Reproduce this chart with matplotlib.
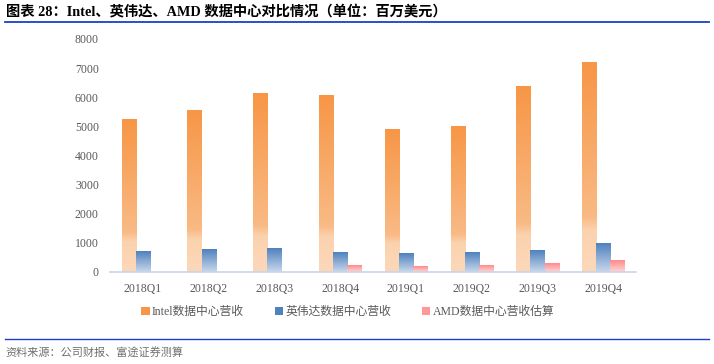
import matplotlib.pyplot as plt
from matplotlib.colors import LinearSegmentedColormap
from matplotlib.lines import Line2D
from matplotlib.patches import Patch
import numpy as np

plt.rcParams['font.family'] = ['Liberation Serif', 'Noto Sans CJK SC']

# Data (millions USD)
quarters = ['2018Q1', '2018Q2', '2018Q3', '2018Q4', '2019Q1', '2019Q2', '2019Q3', '2019Q4']
intel = [5234, 5549, 6139, 6069, 4903, 4983, 6385, 7204]
nvidia = [701, 760, 792, 679, 634, 655, 726, 968]
amd = [0, 0, 0, 210, 180, 220, 290, 380]
series_names = ['Intel数据中心营收', '英伟达数据中心营收', 'AMD数据中心营收估算']

# gradient colormaps (0 = bottom, 1 = top)
cmaps = [
    LinearSegmentedColormap.from_list('intel', [(0, '#FCD8BA'), (0.2, '#FBD2AE'), (0.26, '#F9BA85'), (1, '#F79646')]),
    LinearSegmentedColormap.from_list('nv', [(0, '#C9D8EC'), (1, '#4F81BD')]),
    LinearSegmentedColormap.from_list('amd', [(0, '#FFD6D6'), (1, '#FF8A8A')]),
]
solid = ['#F79646', '#4F81BD', '#FF9999']

fig = plt.figure(figsize=(7.14, 3.64), dpi=100)
ax = fig.add_axes([0.154, 0.253, 0.737, 0.640])

x = np.arange(len(quarters))
w = 0.215
grad = np.linspace(0, 1, 256).reshape(-1, 1)
for k, vals in enumerate([intel, nvidia, amd]):
    bars = ax.bar(x + (k - 1) * w, vals, w, color='none', linewidth=0)
    for b in bars:
        h = b.get_height()
        if h <= 0:
            continue
        x0 = b.get_x()
        ax.imshow(grad, cmap=cmaps[k], origin='lower', aspect='auto',
                  extent=(x0, x0 + w, 0, h), zorder=2)

ax.set_xlim(-0.5, len(quarters) - 0.5)
ax.set_ylim(0, 8000)
ax.set_yticks(range(0, 8001, 1000))
ax.set_xticks(x)
ax.set_xticklabels(quarters)
ax.tick_params(axis='both', length=0, labelsize=8.5, colors='#595959')
ax.tick_params(axis='y', pad=8)
ax.tick_params(axis='x', pad=8)
for s in ['top', 'right', 'left']:
    ax.spines[s].set_visible(False)
ax.spines['bottom'].set_color('#C8D4E6')
ax.spines['bottom'].set_linewidth(1.2)

handles = [Patch(facecolor=c, edgecolor='none') for c in solid]
leg = fig.legend(handles, series_names, loc='center', bbox_to_anchor=(0.487, 0.143),
                 ncol=3, frameon=False, fontsize=8.5, handlelength=0.7, handleheight=0.7,
                 handletextpad=0.2, columnspacing=2.6)
for t in leg.get_texts():
    t.set_color('#595959')

# title and footer
fig.text(0.008, 0.968, '图表 28：Intel、英伟达、AMD 数据中心对比情况（单位：百万美元）',
         fontsize=10.3, fontweight='bold', va='center', ha='left', color='black')
fig.add_artist(Line2D([0.007, 0.993], [0.94, 0.94], color='#1A3FCC', linewidth=1.3))
fig.add_artist(Line2D([0.007, 0.993], [0.068, 0.068], color='#1A3FCC', linewidth=1.0))
fig.text(0.008, 0.032, '资料来源：公司财报、富途证券测算', fontsize=8, va='center', ha='left', color='#707070')

fig.savefig('out.png', dpi=100)
